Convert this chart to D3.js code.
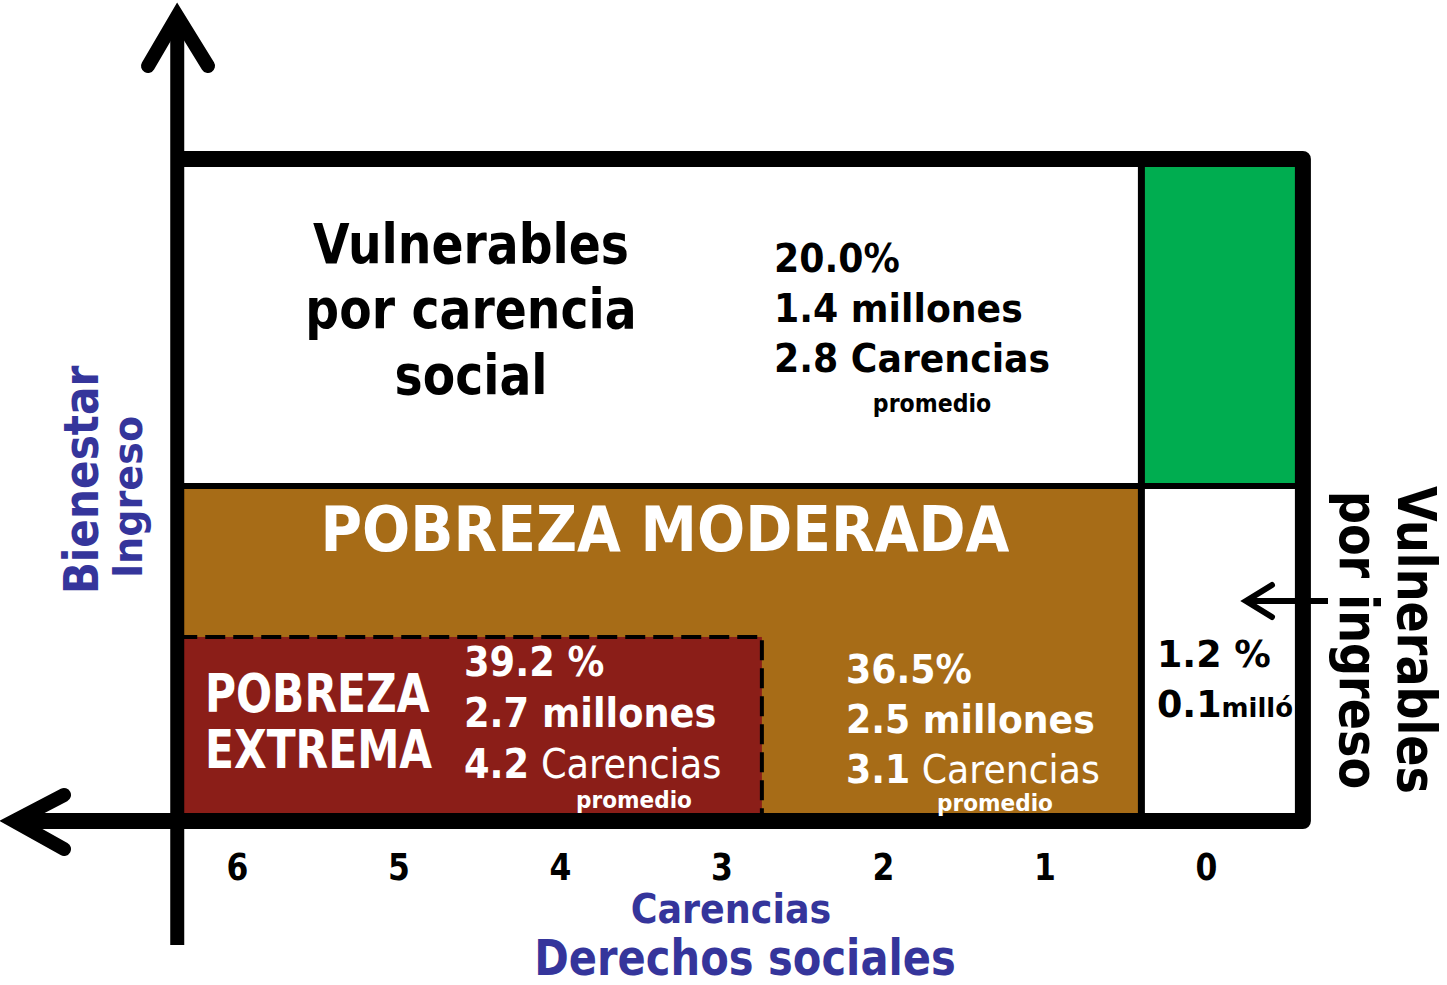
<!DOCTYPE html>
<html lang="es">
<head>
<meta charset="UTF-8">
<title>Pobreza multidimensional</title>
<style>
    body, html { margin: 0; padding: 0; background: #fff; }
    svg { display: block; font-family: "DejaVu Sans", Verdana, sans-serif; }
    .blue { fill: #35359b; }
    .white { fill: #fff; }
</style>
</head>
<body>
<svg id="chart" width="1447" height="985"></svg>
<script src="https://cdnjs.cloudflare.com/ajax/libs/d3/7.8.5/d3.min.js"></script>
<script>
// number of social deprivations (x) and income level (y, arbitrary 0-100)
const carencias = [6, 5, 4, 3, 2, 1, 0];
const cortesCarencias = [6.37, 2.75, 0.4, -0.6];   // left edge, extreme cut, 1 carencia cut, right edge
const cortesIngreso = [0, 27.8, 50.6, 100];        // bottom, bienestar minimo, bienestar, top

const grupos = ["vulCarencia", "extrema", "moderada", "vulIngreso", "noPobre"];
const porcentajes = [20.0, 39.2, 36.5, 1.2];
const millones = [1.4, 2.7, 2.5, 0.1];
const promCarencias = [2.8, 4.2, 3.1];

// cells: indices into cortesCarencias / cortesIngreso
const celdas = [
    { grupo: "vulCarencia", x: [0, 2], y: [2, 3] },
    { grupo: "moderada",    x: [0, 2], y: [0, 2] },
    { grupo: "extrema",     x: [0, 1], y: [0, 1] },
    { grupo: "vulIngreso",  x: [2, 3], y: [0, 2] },
    { grupo: "noPobre",     x: [2, 3], y: [2, 3] }
];
const colores = { vulCarencia: "#ffffff", moderada: "#a76c17", extrema: "#8b1e18", vulIngreso: "#ffffff", noPobre: "#00ad50" };

const svg = d3.select("#chart");
const x = d3.scaleLinear().domain([6, 0]).range([237, 1206]);
const y = d3.scaleLinear().domain([0, 100]).range([821, 159]);

const cx = i => x(cortesCarencias[i]);
const cy = i => y(cortesIngreso[i]);

// fills
svg.append("g").selectAll("rect")
    .data(celdas)
    .join("rect")
    .attr("x", d => cx(d.x[0]))
    .attr("y", d => cy(d.y[1]))
    .attr("width", d => cx(d.x[1]) - cx(d.x[0]))
    .attr("height", d => cy(d.y[0]) - cy(d.y[1]))
    .attr("fill", d => colores[d.grupo]);

// dashed border of pobreza extrema
svg.append("path")
    .attr("d", `M${cx(0)},${cy(1)} H${cx(1)} V${cy(0)}`)
    .attr("fill", "none")
    .attr("stroke", "#000")
    .attr("stroke-width", 4)
    .attr("stroke-dasharray", "20,8");

// inner dividers
svg.append("line")
    .attr("x1", cx(2)).attr("x2", cx(2))
    .attr("y1", cy(3)).attr("y2", cy(0))
    .attr("stroke", "#000").attr("stroke-width", 7);
svg.append("line")
    .attr("x1", cx(0)).attr("x2", cx(3))
    .attr("y1", cy(2)).attr("y2", cy(2))
    .attr("stroke", "#000").attr("stroke-width", 6);

// frame + horizontal axis
svg.append("path")
    .attr("d", `M${cx(0)},${cy(3)} H${cx(3)} V${cy(0)} H14`)
    .attr("fill", "none")
    .attr("stroke", "#000")
    .attr("stroke-width", 16)
    .attr("stroke-linejoin", "round");

// vertical axis
svg.append("path")
    .attr("d", `M${cx(0)},945 V16`)
    .attr("stroke", "#000")
    .attr("stroke-width", 14);

// arrow heads
const arrows = [
    `M148,66 L${cx(0)},16 L208,66`,
    `M64,795 L14,${cy(0)} L64,849`,
    `M1272,585 L1246,601 L1272,617`
];
svg.append("g").selectAll("path")
    .data(arrows)
    .join("path")
    .attr("d", d => d)
    .attr("fill", "none")
    .attr("stroke", "#000")
    .attr("stroke-width", (d, i) => i < 2 ? 14 : 6)
    .attr("stroke-linecap", "round");
svg.append("line")
    .attr("x1", 1246).attr("x2", 1328)
    .attr("y1", 601).attr("y2", 601)
    .attr("stroke", "#000").attr("stroke-width", 6);

// x tick labels
const axis = svg.append("g")
    .attr("transform", "translate(0,880)")
    .call(d3.axisBottom(x).tickValues(carencias).tickSize(0).tickPadding(0).tickFormat(d3.format("d")));
axis.select(".domain").remove();
axis.selectAll("text")
    .attr("dy", 0)
    .attr("transform", "scale(0.85,1)")
    .attr("font-family", "DejaVu Sans")
    .attr("font-size", 37)
    .attr("font-weight", "bold")
    .attr("fill", "#000");

const f1 = d3.format(".1f");

// multi-line label; rows are strings or lists of [text, weight, size]
function label(rows, o) {
    const g = svg.append("g")
        .attr("transform", `translate(${o.x},${o.y})` + (o.rot ? ` rotate(${o.rot})` : "") + ` scale(${o.sx || 1},1)`)
        .attr("text-anchor", o.anchor || "start")
        .attr("class", o.cls || null)
        .attr("font-size", o.size)
        .attr("font-weight", "bold");
    rows.forEach((r, i) => {
        const t = g.append("text").attr("y", i * (o.lh || 0));
        (Array.isArray(r) ? r : [[r]]).forEach(p => {
            t.append("tspan").attr("font-weight", p[1] || null).attr("font-size", p[2] || null).text(p[0]);
        });
    });
    return g;
}

// Vulnerables por carencia social
label(["Vulnerables", "por carencia", "social"], { x: 471, y: 263, size: 55, sx: 0.86, lh: 65.5, anchor: "middle" });
label([f1(porcentajes[0]) + "%", f1(millones[0]) + " millones", f1(promCarencias[0]) + " Carencias"],
    { x: 774, y: 272, size: 39, sx: 0.93, lh: 50 });
label(["promedio"], { x: 932, y: 412, size: 24, sx: 0.92, anchor: "middle" });

// Pobreza moderada
label(["POBREZA MODERADA"], { x: 665, y: 551, size: 63, sx: 0.9, anchor: "middle", cls: "white" });

// Pobreza extrema
label(["POBREZA", "EXTREMA"], { x: 205, y: 712, size: 53, sx: 0.8, lh: 56, cls: "white" });
label([f1(porcentajes[1]) + " %", f1(millones[1]) + " millones",
       [[f1(promCarencias[1])], [" Carencias", "normal"]]],
    { x: 464, y: 676, size: 40, sx: 0.92, lh: 51, cls: "white" });
label(["promedio"], { x: 634, y: 808, size: 23, sx: 0.94, anchor: "middle", cls: "white" });

// moderada stats
label([f1(porcentajes[2]) + "%", f1(millones[2]) + " millones",
       [[f1(promCarencias[2])], [" Carencias", "normal"]]],
    { x: 846, y: 683, size: 39, sx: 0.93, lh: 50, cls: "white" });
label(["promedio"], { x: 995, y: 811, size: 23, sx: 0.94, anchor: "middle", cls: "white" });

// vulnerables por ingreso
label([f1(porcentajes[3]) + " %", [[f1(millones[3])], ["milló", "bold", 27]]],
    { x: 1157, y: 667, size: 38, sx: 0.96, lh: 50 });
label(["Vulnerables", "por ingreso"], { x: 1398, y: 640, rot: 90, size: 53, sx: 0.87, lh: 58, anchor: "middle" });

// axis titles
label(["Bienestar"], { x: 98, y: 480, rot: -90, size: 48, sx: 0.88, anchor: "middle", cls: "blue" });
label(["Ingreso"], { x: 142, y: 497, rot: -90, size: 41, sx: 0.93, anchor: "middle", cls: "blue" });
label(["Carencias"], { x: 731, y: 923, size: 41, sx: 0.89, anchor: "middle", cls: "blue" });
label(["Derechos sociales"], { x: 745, y: 975, size: 49, sx: 0.85, anchor: "middle", cls: "blue" });
</script>
</body>
</html>
